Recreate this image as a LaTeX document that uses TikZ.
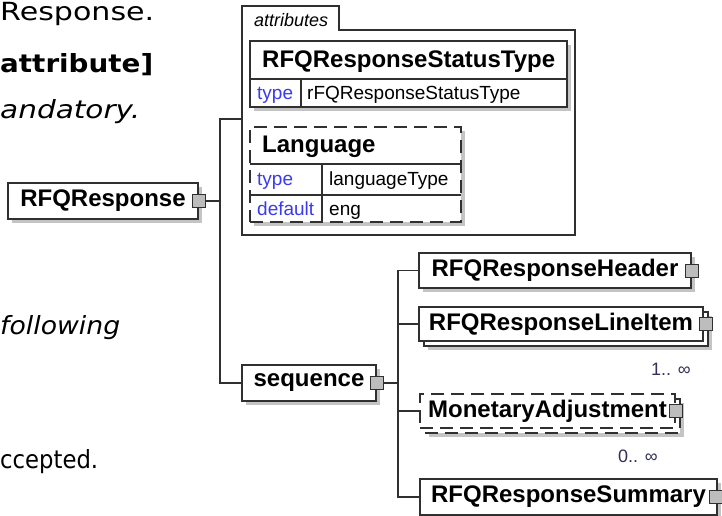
\documentclass[tikz,border=0pt]{standalone}
\usepackage{fontspec}
\usepackage{graphicx}
\setmainfont{Liberation Sans}
\newfontfamily\pagefont{DejaVu Sans}
\definecolor{shadowgray}{HTML}{C4C4C4}
\definecolor{linegray}{HTML}{303030}
\definecolor{typeblue}{HTML}{3A3AF0}
\definecolor{occblue}{HTML}{30305A}
\definecolor{sqgray}{HTML}{BDBDBD}
\tikzset{
  conn/.style={draw=linegray, line width=1.1pt},
  shad/.style={preaction={fill=shadowgray, draw=none, transform canvas={shift={(#1,-#1)}}}},
  copybox/.style={preaction={draw=linegray, line width=1.1pt, fill=white, #1, transform canvas={shift={(5pt,-5pt)}}}},
  elem/.style={draw=linegray, line width=1.1pt, fill=white, rectangle, inner sep=0pt,
    font=\fontsize{24}{28}\selectfont\bfseries},
  tblbox/.style={draw=linegray, line width=1.1pt, fill=white, rectangle, inner sep=0pt},
  longdash/.style={dash pattern=on 13pt off 7pt},
  sqbtn/.style={draw=linegray, line width=1pt, fill=sqgray, minimum width=13pt, minimum height=13pt, inner sep=0pt},
  txt/.style={anchor=base west, inner sep=0pt},
  bigtxt/.style={txt, font=\fontsize{24}{28}\selectfont\bfseries},
  valtxt/.style={txt, font=\fontsize{19}{22}\selectfont},
  keytxt/.style={txt, font=\fontsize{19}{22}\selectfont, text=typeblue},
  occtxt/.style={txt, font=\fontsize{18}{20}\selectfont, text=occblue},
  pagetxt/.style={txt, font=\pagefont\fontsize{25}{30}\selectfont},
}
\begin{document}
\begin{tikzpicture}[x=1pt, y=-1pt]
\fill[white] (0,0) rectangle (722,516);
\useasboundingbox (0,0) rectangle (722,516);

% page text cut at the left edge
\node[pagetxt] (t1) at (0,21) {\resizebox{154pt}{\height}{Response.}};
\node[pagetxt, font=\pagefont\fontsize{25}{30}\selectfont\bfseries] (t2) at (0,73) {\resizebox{153pt}{\height}{attribute]}};
\node[pagetxt, font=\pagefont\fontsize{25}{30}\selectfont\itshape] (t3) at (0,118) {\resizebox{140pt}{\height}{andatory.}};
\node[pagetxt, font=\pagefont\fontsize{25}{30}\selectfont\itshape] (t4) at (0,334) {\resizebox{120pt}{\height}{following}};
\node[pagetxt] (t5) at (0,468) {\resizebox{98pt}{\height}{ccepted.}};

% root element
\node[elem, shad=4pt, minimum width=190pt, minimum height=36pt] (resp) at (103,201) {RFQResponse};
\node[sqbtn] (respsq) at (resp.east) {};

% attributes group
\coordinate (attrL) at (242,119);
\draw[conn] (242,235) -- (242,6) -- (339,6) -- (339,30) -- (575,30) -- (575,235) -- cycle;
\node[txt, font=\fontsize{18}{20}\selectfont\itshape] (attrlab) at (254,27) {attributes};

% RFQResponseStatusType attribute
\node[tblbox, shad=4pt, minimum width=317pt, minimum height=66pt] (stat) at (408.5,74) {};
\draw[conn] (250,79) -- (567,79);
\draw[conn] (301,79) -- (301,107);
\node[bigtxt] (stattitle) at (262,68) {RFQResponseStatusType};
\node[keytxt] (stattype) at (257,100) {type};
\node[valtxt] (statval) at (307,100) {rFQResponseStatusType};

% Language attribute (optional)
\node[tblbox, longdash, shad=4pt, minimum width=211pt, minimum height=95pt] (lang) at (355.5,174.5) {};
\draw[conn] (250,164) -- (461,164);
\draw[conn] (250,195) -- (461,195);
\draw[conn] (322,164) -- (322,222);
\node[bigtxt] (langtitle) at (262,152) {Language};
\node[keytxt] (langtype) at (257,185) {type};
\node[valtxt] (langval) at (329,185) {languageType};
\node[keytxt] (langdef) at (257,215) {default};
\node[valtxt] (langdefval) at (329,215) {eng};

% sequence
\node[elem, shad=4pt, minimum width=134pt, minimum height=36pt] (seq) at (309,383) {sequence};
\node[sqbtn] (seqsq) at (seq.east) {};

% children
\node[elem, shad=4pt, minimum width=272pt, minimum height=35pt] (hdr) at (555,270.5) {RFQResponseHeader};
\node[sqbtn] (hdrsq) at (hdr.east) {};
\node[elem, shad=9pt, copybox={solid}, minimum width=284pt, minimum height=34pt] (li) at (561,324) {RFQResponseLineItem};
\node[sqbtn] (lisq) at ([xshift=2pt]li.east) {};
\node[occtxt] (occ1) at (651,375) {1.. ∞};
\node[elem, longdash, shad=9pt, copybox={longdash}, minimum width=255pt, minimum height=34pt] (ma) at (547.5,411) {MonetaryAdjustment};
\node[sqbtn] (masq) at (ma.east) {};
\node[occtxt] (occ0) at (618,462) {0.. ∞};
\node[elem, shad=4pt, minimum width=297pt, minimum height=36pt] (sum) at (568.5,497) {RFQResponseSummary};
\node[sqbtn] (sumsq) at ([xshift=-2pt]sum.east) {};

% connectors
\coordinate (spA) at (220,119);
\coordinate (spB) at (220,383);
\coordinate (spC) at (398,270.5);
\coordinate (spD) at (398,497);
\draw[conn] (respsq.east) -- (respsq.east -| spA);
\draw[conn] (attrL) -- (spA) -- (spB) -- (seq.west);
\draw[conn] (seqsq.east) -- (seqsq.east -| spC);
\draw[conn] (hdr.west) -- (spC) -- (spD) -- (sum.west);
\draw[conn] (li.west) -- (li.west -| spC);
\draw[conn] (ma.west) -- (ma.west -| spC);
\end{tikzpicture}
\end{document}
